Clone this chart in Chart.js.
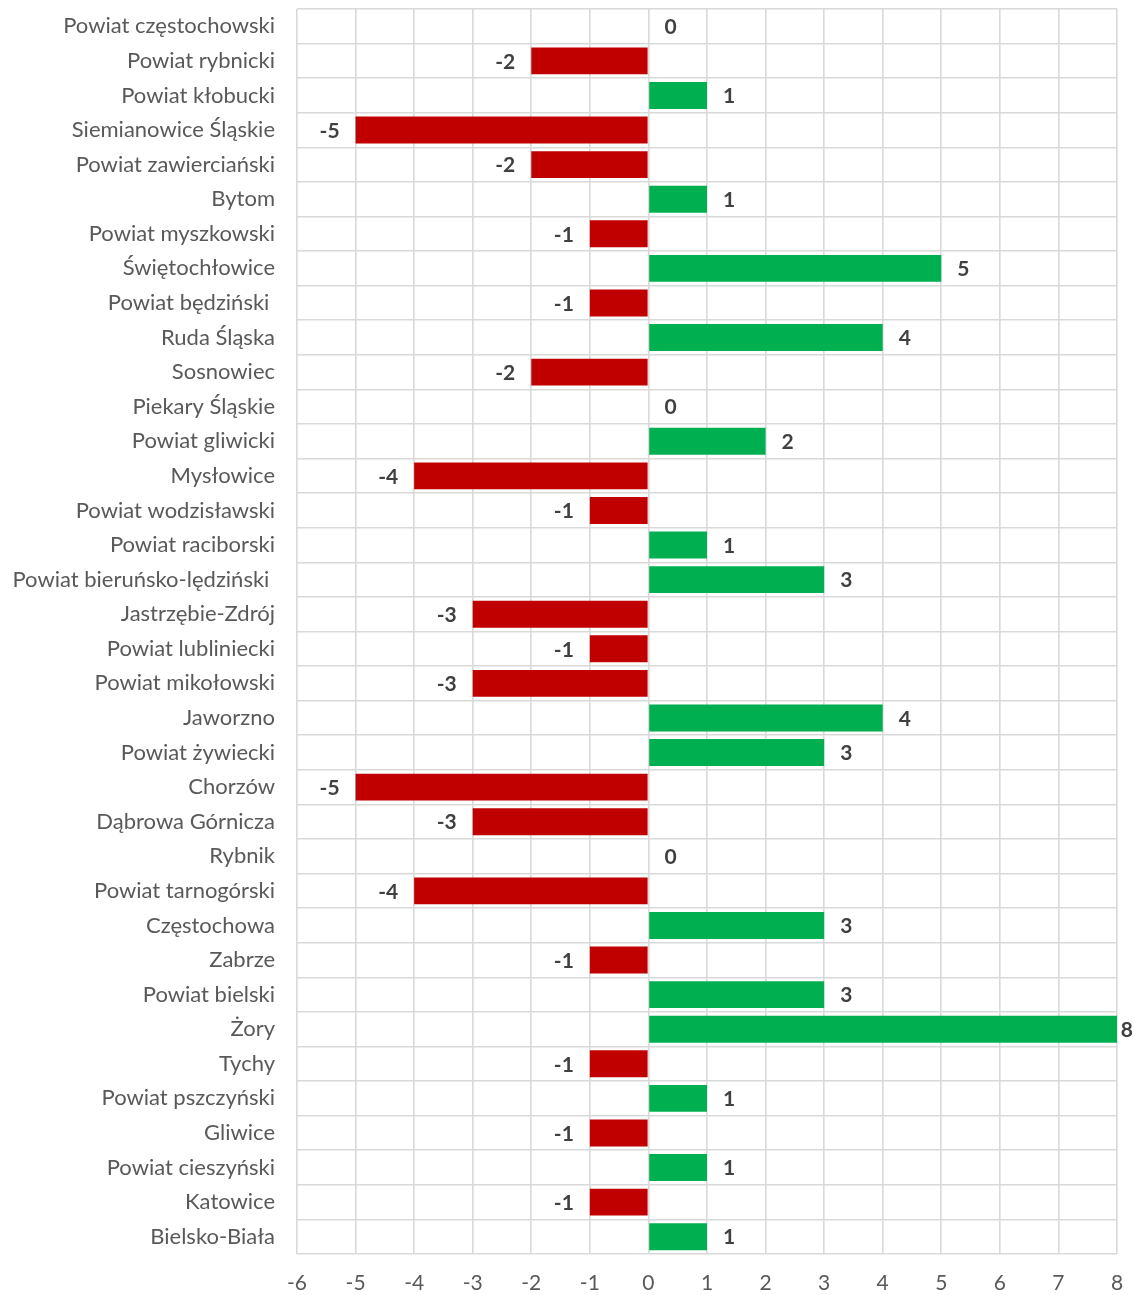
<!DOCTYPE html>
<html>
<head>
<meta charset="utf-8">
<script src="https://cdn.jsdelivr.net/npm/chart.js@4/dist/chart.umd.min.js"></script>
<style>
html,body{margin:0;padding:0;background:#fff;overflow:hidden;}
canvas{display:block;}
</style>
</head>
<body>
<canvas id="c" width="1134" height="1295"></canvas>
<script>
const categories = [
  "Powiat częstochowski","Powiat rybnicki","Powiat kłobucki","Siemianowice Śląskie",
  "Powiat zawierciański","Bytom","Powiat myszkowski","Świętochłowice",
  "Powiat będziński ","Ruda Śląska","Sosnowiec","Piekary Śląskie",
  "Powiat gliwicki","Mysłowice","Powiat wodzisławski","Powiat raciborski",
  "Powiat bieruńsko-lędziński ","Jastrzębie-Zdrój","Powiat lubliniecki","Powiat mikołowski",
  "Jaworzno","Powiat żywiecki","Chorzów","Dąbrowa Górnicza",
  "Rybnik","Powiat tarnogórski","Częstochowa","Zabrze",
  "Powiat bielski","Żory","Tychy","Powiat pszczyński",
  "Gliwice","Powiat cieszyński","Katowice","Bielsko-Biała"
];
const values = [
  0,-2,1,-5,
  -2,1,-1,5,
  -1,4,-2,0,
  2,-4,-1,1,
  3,-3,-1,-3,
  4,3,-5,-3,
  0,-4,3,-1,
  3,8,-1,1,
  -1,1,-1,1
];
const xMin = -6, xMax = 8, xStep = 1;

const FONT = "Lato, 'Open Sans', sans-serif";
const RED = "#C00000", GREEN = "#00B050";

const dataLabels = {
  id: 'dataLabels',
  afterDatasetsDraw(chart) {
    const ctx = chart.ctx;
    const meta = chart.getDatasetMeta(0);
    ctx.save();
    ctx.font = "bold 21px " + FONT;
    ctx.fillStyle = "#404040";
    ctx.textBaseline = "middle";
    meta.data.forEach((bar, i) => {
      const v = values[i];
      const txt = String(v);
      const w = ctx.measureText(txt).width;
      const end = bar.x, y = bar.y + 1;
      if (v < 0) {
        ctx.textAlign = "right";
        ctx.fillText(txt, end - 16, y);
      } else {
        ctx.textAlign = "left";
        let x = end + 16;
        if (x + w > chart.width - 1) x = chart.width - 1 - w;
        ctx.fillText(txt, x, y);
      }
    });
    ctx.restore();
  }
};

new Chart(document.getElementById('c'), {
  type: 'bar',
  data: {
    labels: categories,
    datasets: [{
      data: values,
      backgroundColor: values.map(v => v < 0 ? RED : GREEN),
      borderWidth: 0,
      barPercentage: 0.78,
      categoryPercentage: 1.0
    }]
  },
  options: {
    indexAxis: 'y',
    responsive: false,
    maintainAspectRatio: false,
    animation: false,
    devicePixelRatio: 1,
    layout: { autoPadding: false, padding: { top: 9, right: 17, left: 0, bottom: 0 } },
    plugins: { legend: { display: false }, tooltip: { enabled: false } },
    scales: {
      x: {
        min: xMin, max: xMax,
        ticks: { stepSize: xStep, color: "#595959", font: { family: FONT, size: 21 }, padding: 17 },
        grid: { color: "#D9D9D9", lineWidth: 1.6, drawTicks: false },
        border: { display: false },
        afterFit(scale) { scale.height = 41; scale.paddingLeft = 0; scale.paddingRight = 0; scale.paddingTop = 0; scale.paddingBottom = 0; }
      },
      y: {
        ticks: { color: "#595959", font: { family: FONT, size: 22 }, padding: 22, autoSkip: false },
        grid: { color: "#D9D9D9", lineWidth: 1.6, drawTicks: false, offset: true },
        border: { display: false },
        afterFit(scale) { scale.width = 297; scale.paddingLeft = 0; scale.paddingRight = 0; scale.paddingTop = 0; scale.paddingBottom = 0; }
      }
    }
  },
  plugins: [dataLabels]
});
</script>
</body>
</html>
